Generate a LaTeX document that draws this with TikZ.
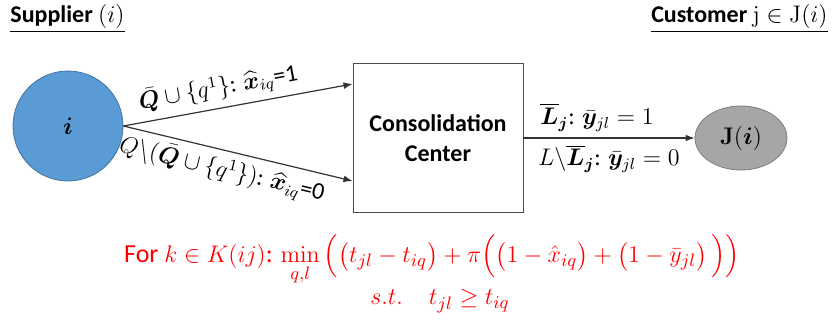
\documentclass[tikz,border=0pt]{standalone}
\usepackage{amsmath}
\usepackage{bm}
\usepackage[no-math]{fontspec}
\setmainfont{Carlito}
\usetikzlibrary{arrows.meta,calc,positioning,shapes.geometric}
\definecolor{supplierblue}{RGB}{91,155,213}
\definecolor{supplieredge}{RGB}{65,113,156}
\definecolor{customergray}{RGB}{166,166,166}
\definecolor{customeredge}{RGB}{125,125,125}
\definecolor{formulared}{RGB}{255,0,0}
\tikzset{
  heading/.style={font=\fontsize{12}{14}\selectfont\bfseries,inner sep=1pt},
  supplier/.style={circle,draw=supplieredge,fill=supplierblue,minimum size=55pt,
    inner sep=0pt,font=\fontsize{12}{14}\selectfont},
  center/.style={rectangle,draw=black!70,minimum width=85pt,minimum height=74.5pt,
    align=center,font=\fontsize{12}{15}\selectfont\bfseries},
  customer/.style={ellipse,draw=customeredge,fill=customergray,minimum width=46pt,
    minimum height=32pt,inner sep=0pt,font=\fontsize{12}{14}\selectfont},
  flow/.style={-{Latex[length=1.6mm,width=1.2mm]},line width=0.6pt,draw=black!80},
  arclabel/.style={font=\fontsize{12}{14}\selectfont,text=black,inner sep=3pt},
  formula/.style={font=\fontsize{13}{15}\selectfont,text=formulared,inner sep=1pt}
}

\begin{document}
\begin{tikzpicture}[x=0.5pt,y=-0.5pt]
  \useasboundingbox (0,0) rectangle (834,326);
  \node[heading,anchor=west] (hdSupplier) at (8,19) {\underline{Supplier $(i)$}};
  \node[heading,anchor=east] (hdCustomer) at (830,19) {\underline{Customer $\mathrm{j}\in\mathrm{J}(i)$}};
  \node[supplier] (sup) at (68,126) {$\bm{i}$};
  \node[center] (cc) at (438,138) {Consolidation\\Center};
  \node[customer] (cust) at (741,138) {$\mathbf{J}(\bm{i})$};
  \draw[flow] (sup.east) -- node[arclabel,sloped,above,pos=0.43]
    {$\bar{\bm{Q}}\cup\{q^1\}\text{: }\widehat{\bm{x}}_{iq}\text{=1}$} ($(cc.west)+(0,-54)$);
  \draw[flow] (sup.east) -- node[arclabel,sloped,below,pos=0.45]
    {$Q\backslash(\bar{\bm{Q}}\cup\{q^1\})\text{: }\widehat{\bm{x}}_{iq}\text{=0}$} ($(cc.west)+(0,43)$);
  \draw[flow] (cc.east) -- node[arclabel,above,pos=0.43]
    {$\overline{\bm{L}}_{\bm{j}}\text{: }\bar{\bm{y}}_{jl}=1$}
    node[arclabel,below,pos=0.5]
    {$L\backslash\overline{\bm{L}}_{\bm{j}}\text{: }\bar{\bm{y}}_{jl}=0$} (cust.west);
  \node[formula] (objective) at (432,260)
    {For $k\in K(ij)$: $\min\limits_{q,l}\Big(\big(t_{jl}-t_{iq}\big)+\pi\Big(\big(1-\hat{x}_{iq}\big)+\left(1-\bar{y}_{jl}\right)\Big)\Big)$};
  \node[formula] (constraint) at (440,301) {$s.t.\quad t_{jl}\geq t_{iq}$};
\end{tikzpicture}
\end{document}
